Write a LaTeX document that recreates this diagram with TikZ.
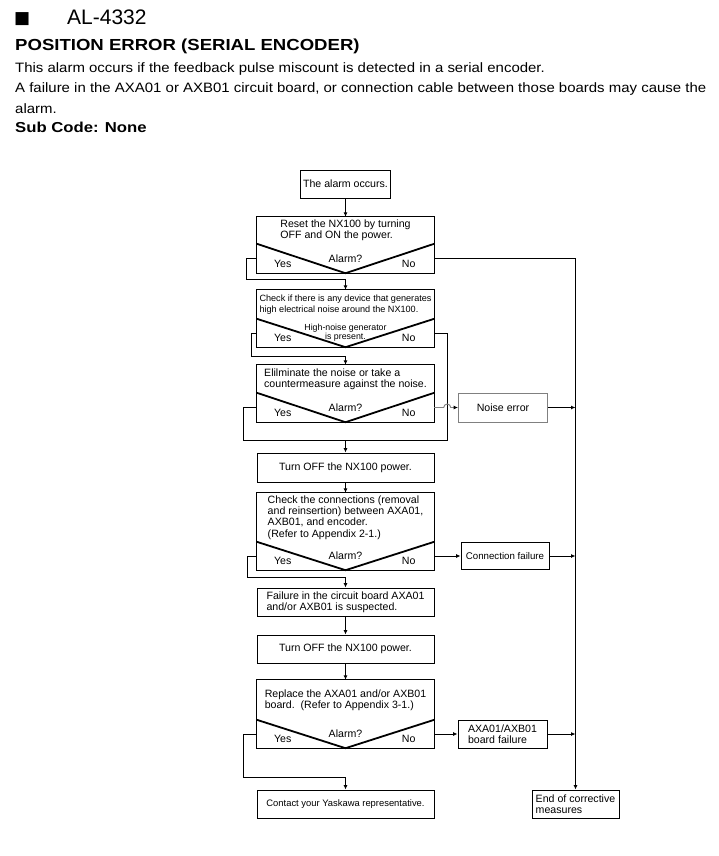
\documentclass[tikz,border=0pt]{standalone}
\usepackage{fontspec}
\setmainfont{Liberation Sans}
\newfontfamily\headfont{Liberation Sans}[FakeStretch=1.16]
\newfontfamily\bodyfont{Liberation Sans}[FakeStretch=1.1]
\newfontfamily\symfont{DejaVu Sans}
\usetikzlibrary{arrows.meta,positioning}

\begin{document}
\begin{tikzpicture}[x=1pt,y=-1pt,
  base/.style={rectangle,inner sep=2pt,align=left,font=\fontsize{10.6}{11.2}\selectfont},
  box/.style={base,draw,line width=0.9pt,minimum height=28pt},
  main/.style={base,minimum width=177pt},
  ask/.style={base,minimum width=177pt,minimum height=28pt,align=center},
  lbl/.style={base,inner sep=0pt},
  vee/.style={line width=1.8pt,line join=miter},
  wire/.style={line width=0.9pt},
  arr/.style={wire,-{Latex[length=4.5pt,width=4pt]}},
  body/.style={anchor=base west,inner sep=0pt,font=\bodyfont\fontsize{13.6}{13.6}\selectfont},
  head/.style={anchor=base west,inner sep=0pt,font=\headfont\bfseries\fontsize{#1}{#1}\selectfont}]
\useasboundingbox (0,0) rectangle (718,856);
% heading
\node[anchor=base west,inner sep=0pt,font=\symfont\fontsize{17}{17}\selectfont] (mark) at (14,23.5) {■};
\node[anchor=base west,inner sep=0pt,font=\fontsize{21}{21}\selectfont] (code) at (67,25) {AL-4332};
\node[head=16] (title) at (15,50.7) {POSITION ERROR (SERIAL ENCODER)};
\foreach \y/\t [count=\i] in {72.3/This alarm occurs if the feedback pulse miscount is detected in a serial encoder.,
   92.7/{A failure in the AXA01 or AXB01 circuit board, or connection cable between those boards may cause the},
   113.3/alarm.} {
   \node[body] (desc\i) at (15,\y) {\t};
}
\node[head=14.4] (sub) at (15,132.7) {Sub Code: None};
% flow
\node[box,minimum width=90pt] (start) at (345.5,184) {The alarm occurs.};
\node[main,minimum height=27pt] (reset) at (345.5,230.5) {Reset the NX100 by turning\\OFF and ON the power.};
\node[ask,minimum height=29pt] (reset-q) at (345.5,258.5) {Alarm?};
\node[main,minimum height=29pt,font=\fontsize{9.1}{11}\selectfont] (check) at (345.5,304.5) {Check if there is any device that generates\\high electrical noise around the NX100.};
\node[ask,font=\fontsize{8.8}{8}\selectfont] (check-q) at (345.5,333) {High-noise generator\\is present.};
\node[main,minimum height=28pt] (elim) at (345.5,379) {Elilminate the noise or take a\\countermeasure against the noise.};
\node[ask,minimum height=29pt] (elim-q) at (345.5,407.5) {Alarm?};
\node[box,minimum width=177pt,minimum height=29pt] (off1) at (345.5,467.5) {Turn OFF the NX100 power.};
\node[main,minimum height=49pt] (conn) at (345.5,517.5) {Check the connections (removal\\and reinsertion) between AXA01,\\AXB01, and encoder.\\(Refer to Appendix 2-1.)};
\node[ask] (conn-q) at (345.5,556) {Alarm?};
\node[box,minimum width=177pt] (fail) at (345.5,602) {Failure in the circuit board AXA01\\and/or AXB01 is suspected.};
\node[box,minimum width=177pt] (off2) at (345.5,649) {Turn OFF the NX100 power.};
\node[main,minimum height=40pt] (repl) at (345.5,700) {Replace the AXA01 and/or AXB01\\board.\ \ (Refer to Appendix 3-1.)};
\node[ask] (repl-q) at (345.5,734) {Alarm?};
\node[box,minimum width=177pt,font=\fontsize{9.4}{11}\selectfont] (contact) at (345.5,804) {Contact your Yaskawa representative.};
\node[box,minimum width=89pt,minimum height=29pt,draw=gray] (noise) at (503,407.5) {Noise error};
\node[box,minimum width=88pt,minimum height=27pt,font=\fontsize{9.7}{11}\selectfont] (cfail) at (505,556) {Connection failure};
\node[box,minimum width=89pt] (axa) at (502.5,734) {AXA01/AXB01\\board failure};
\node[box,minimum width=87pt] (endm) at (575.5,804) {End of corrective\\measures};
\foreach \n in {reset,check,elim,conn,repl} {
   \draw[wire] (\n.north west) rectangle (\n-q.south east);
   \draw[vee] (\n-q.north west) -- (\n-q.south) -- (\n-q.north east);
   \node[lbl,anchor=base west] (\n-yes) at ([shift={(17pt,5.5pt)}]\n-q.south west) {Yes};
   \node[lbl,anchor=base east] (\n-no) at ([shift={(-18.5pt,5.5pt)}]\n-q.south east) {No};
}
\foreach \a/\b in {start/reset,off1/conn,fail/off2,off2/repl} {
   \draw[arr] (\a) -- (\b);
}
\coordinate (y1) at (246,279);
\coordinate (y2) at (251,356);
\coordinate (y3) at (243,440);
\coordinate (y4) at (247,577);
\coordinate (y5) at (243,777);
\coordinate (n2) at (447,440);
\draw[arr] (reset-q.west) -| (y1) -| (check.north);
\draw[arr] (check-q.west) -| (y2) -| (elim.north);
\draw[arr] (elim-q.west) -| (y3) -| (off1.north);
\draw[wire] (check-q.east) -| (n2) -- (n2 -| off1.north);
\draw[arr] (conn-q.west) -| (y4) -| (fail.north);
\draw[arr] (repl-q.west) -| (y5) -| (contact.north);
\draw[arr] (reset-q.east) -| (endm.north);
\draw[wire,gray,-{Latex[length=4.5pt,width=4pt,color=black]}] (elim-q.east) -- ++(9.5,0)
   arc[start angle=180,end angle=0,radius=3.5pt] -- (noise.west);
\draw[arr] (conn-q.east) -- (cfail.west);
\draw[arr] (repl-q.east) -- (axa.west);
\foreach \n in {noise,cfail,axa} {
   \draw[arr] (\n.east) -- (\n.east -| endm.north);
}
\end{tikzpicture}
\end{document}
